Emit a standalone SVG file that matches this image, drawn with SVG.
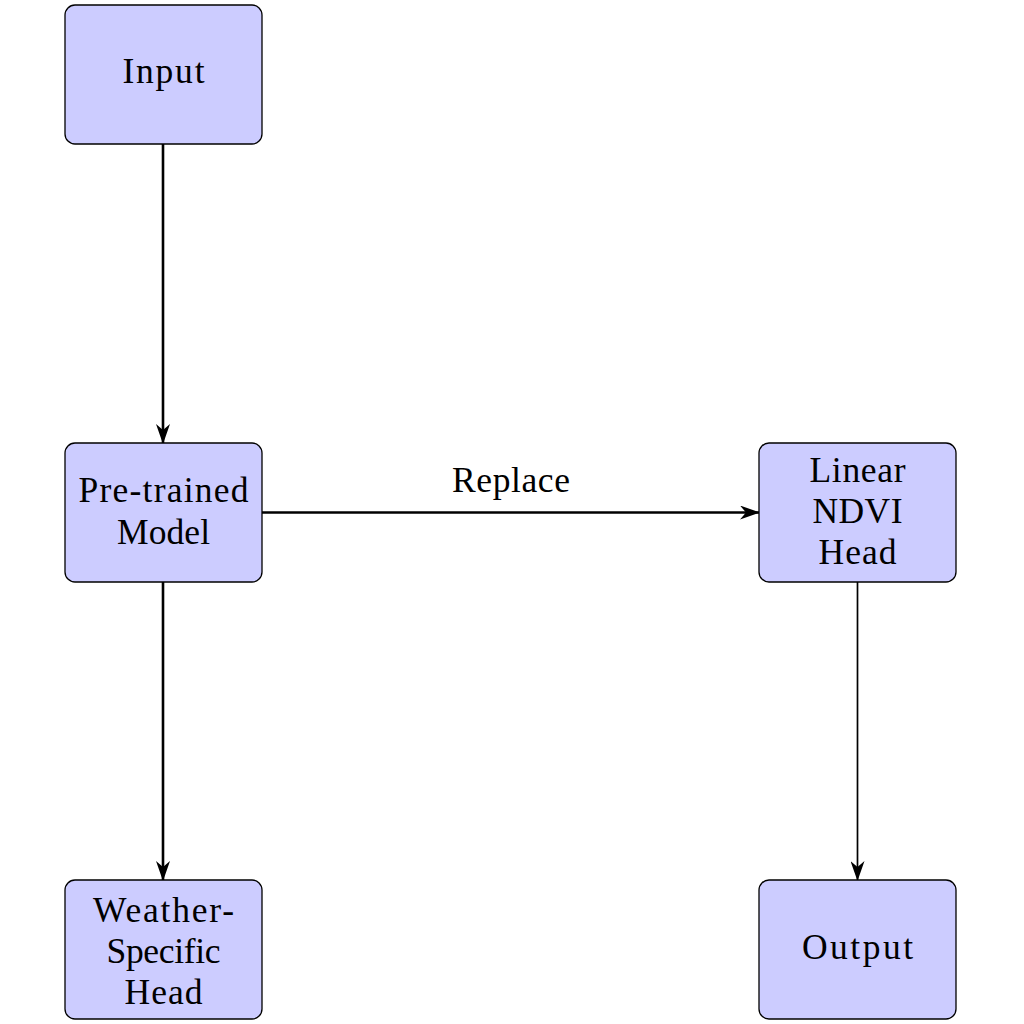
<svg xmlns="http://www.w3.org/2000/svg" width="1024" height="1024" viewBox="0 0 1024 1024">
<defs>
<style>
.box{fill:#ccccff;stroke:#000;stroke-width:1.3}
.t{font-family:"Liberation Serif","DejaVu Serif",serif;font-size:35.5px;fill:#000;text-anchor:middle}
.edge{stroke:#000;fill:none}
.thick{stroke-width:2.6}
.thin{stroke-width:1.7}
</style>
<marker id="ah" viewBox="0 0 20 14" refX="19" refY="7" markerWidth="20" markerHeight="14" markerUnits="userSpaceOnUse" orient="auto">
<path d="M0,0 L20,7 L0,14 L6,7 Z" fill="#000"/>
</marker>
</defs>
<rect width="1024" height="1024" fill="#fff"/>
<g id="connectors">
<line class="edge thick" x1="163" y1="144" x2="163" y2="443" marker-end="url(#ah)"/>
<line class="edge thick" x1="163" y1="582" x2="163" y2="880" marker-end="url(#ah)"/>
<line class="edge thick" x1="262" y1="512.5" x2="759" y2="512.5" marker-end="url(#ah)"/>
<text class="t" x="511" y="492" textLength="118" lengthAdjust="spacing">Replace</text>
<line class="edge thin" x1="857.5" y1="582" x2="857.5" y2="880" marker-end="url(#ah)"/>
</g>
<g id="input">
<rect class="box" x="65" y="5" width="197" height="139" rx="10"/>
<text class="t" x="163.5" y="83" textLength="82" lengthAdjust="spacing">Input</text>
</g>
<g id="pretrained">
<rect class="box" x="65" y="443" width="197" height="139" rx="10"/>
<text class="t" x="163.5" y="502" textLength="170" lengthAdjust="spacing">Pre-trained</text>
<text class="t" x="163.5" y="544" textLength="93" lengthAdjust="spacing">Model</text>
</g>
<g id="weather">
<rect class="box" x="65" y="880" width="197" height="139" rx="10"/>
<text class="t" x="163.5" y="922" textLength="141" lengthAdjust="spacing">Weather-</text>
<text class="t" x="163.5" y="963" textLength="114" lengthAdjust="spacing">Specific</text>
<text class="t" x="163.5" y="1004" textLength="78" lengthAdjust="spacing">Head</text>
</g>
<g id="linear">
<rect class="box" x="759" y="443" width="197" height="139" rx="10"/>
<text class="t" x="857.5" y="482" textLength="96" lengthAdjust="spacing">Linear</text>
<text class="t" x="857.5" y="523" textLength="90" lengthAdjust="spacing">NDVI</text>
<text class="t" x="857.5" y="564" textLength="78" lengthAdjust="spacing">Head</text>
</g>
<g id="output">
<rect class="box" x="759" y="880" width="197" height="139" rx="10"/>
<text class="t" x="857.5" y="959" textLength="111" lengthAdjust="spacing">Output</text>
</g>
</svg>
